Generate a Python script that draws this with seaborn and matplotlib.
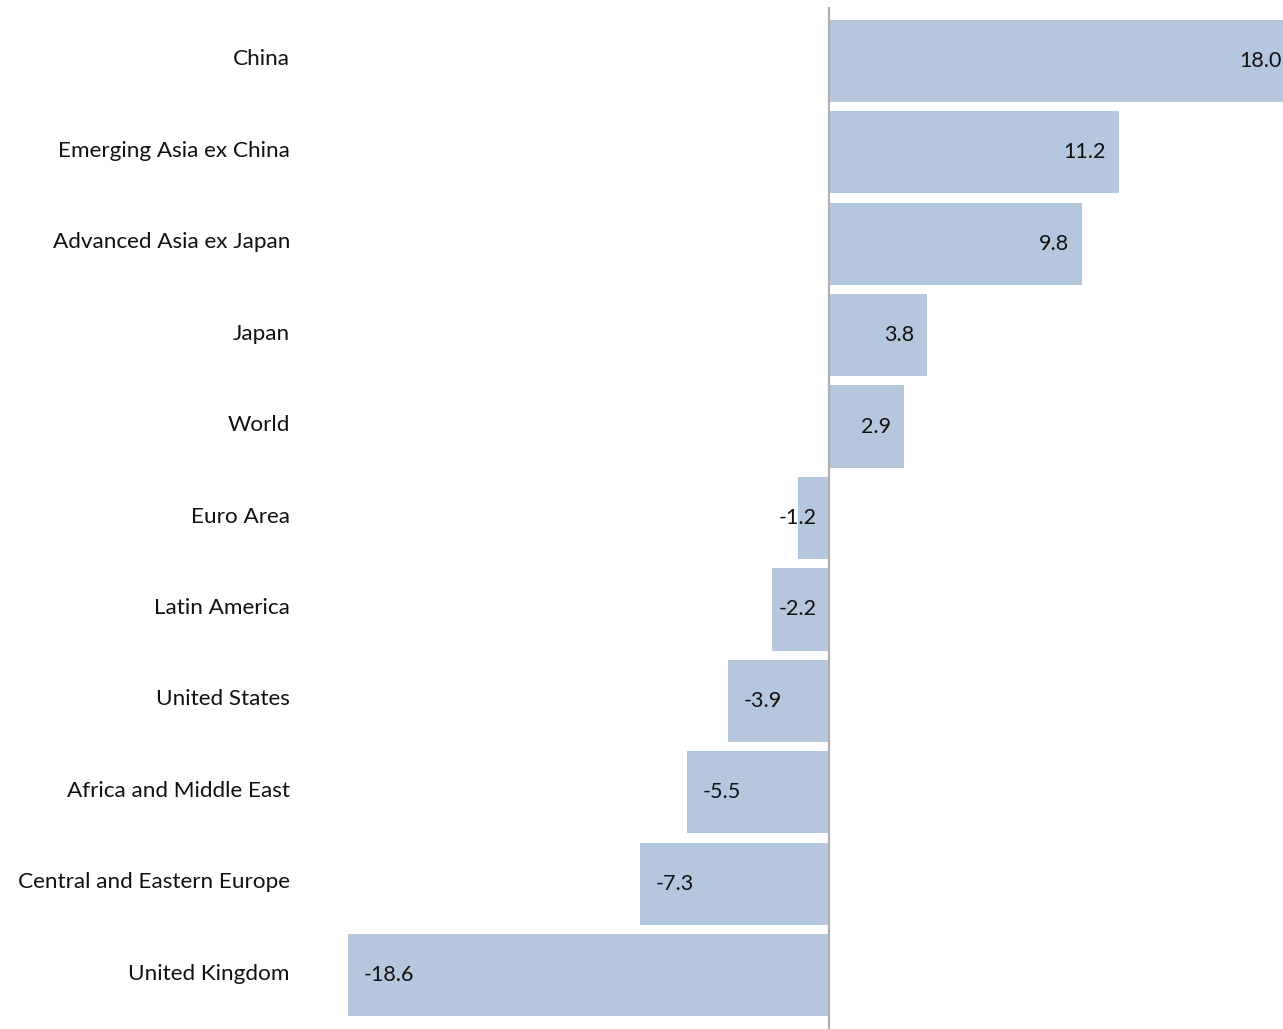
import matplotlib
matplotlib.use("Agg")
import matplotlib.pyplot as plt
import matplotlib.transforms as mtransforms
import seaborn as sns
import pandas as pd

regions = ["China", "Emerging Asia ex China", "Advanced Asia ex Japan", "Japan", "World",
           "Euro Area", "Latin America", "United States", "Africa and Middle East",
           "Central and Eastern Europe", "United Kingdom"]
values = [18.0, 11.2, 9.8, 3.8, 2.9, -1.2, -2.2, -3.9, -5.5, -7.3, -18.6]

df = pd.DataFrame({"region": regions, "value": values})

sns.set_theme(style="white")
plt.rcParams["font.family"] = ["Lato", "DejaVu Sans"]

W, H = 1283, 1029
fig = plt.figure(figsize=(W / 100, H / 100), dpi=100)
ax = fig.add_axes([348 / W, 0, 1 - 348 / W, (H - 7) / H])

sns.barplot(data=df, x="value", y="region", orient="h", color="#b4c7dc",
            saturation=1, width=0.9, linewidth=0, edgecolor="none", ax=ax, zorder=2)
ax.axvline(0, color="#b0b0b0", lw=1.6, zorder=2.5)

ax.set_xlim(-18.6, 17.56)
ax.set_ylim(10.59, -0.59)

for i, v in enumerate(values):
    if v >= 0:
        ax.text(v - 0.5, i, f"{v:.1f}", ha="right", va="center", fontsize=15.5,
                color="#111111", zorder=3)
    else:
        ax.text(min(v + 0.6, -1.95), i, f"{v:.1f}", ha="left", va="center", fontsize=15.5,
                color="#111111", zorder=3)

ax.set_xlabel("")
ax.set_ylabel("")
ax.set_xticks([])
ax.tick_params(axis="y", length=0, pad=41.8, labelsize=16.2, labelcolor="#111111")
lift = mtransforms.ScaledTranslation(0, 2.5 / 72, fig.dpi_scale_trans)
for lab in ax.get_yticklabels():
    lab.set_transform(lab.get_transform() + lift)
for s in ax.spines.values():
    s.set_visible(False)

fig.savefig("out.png", dpi=100)
